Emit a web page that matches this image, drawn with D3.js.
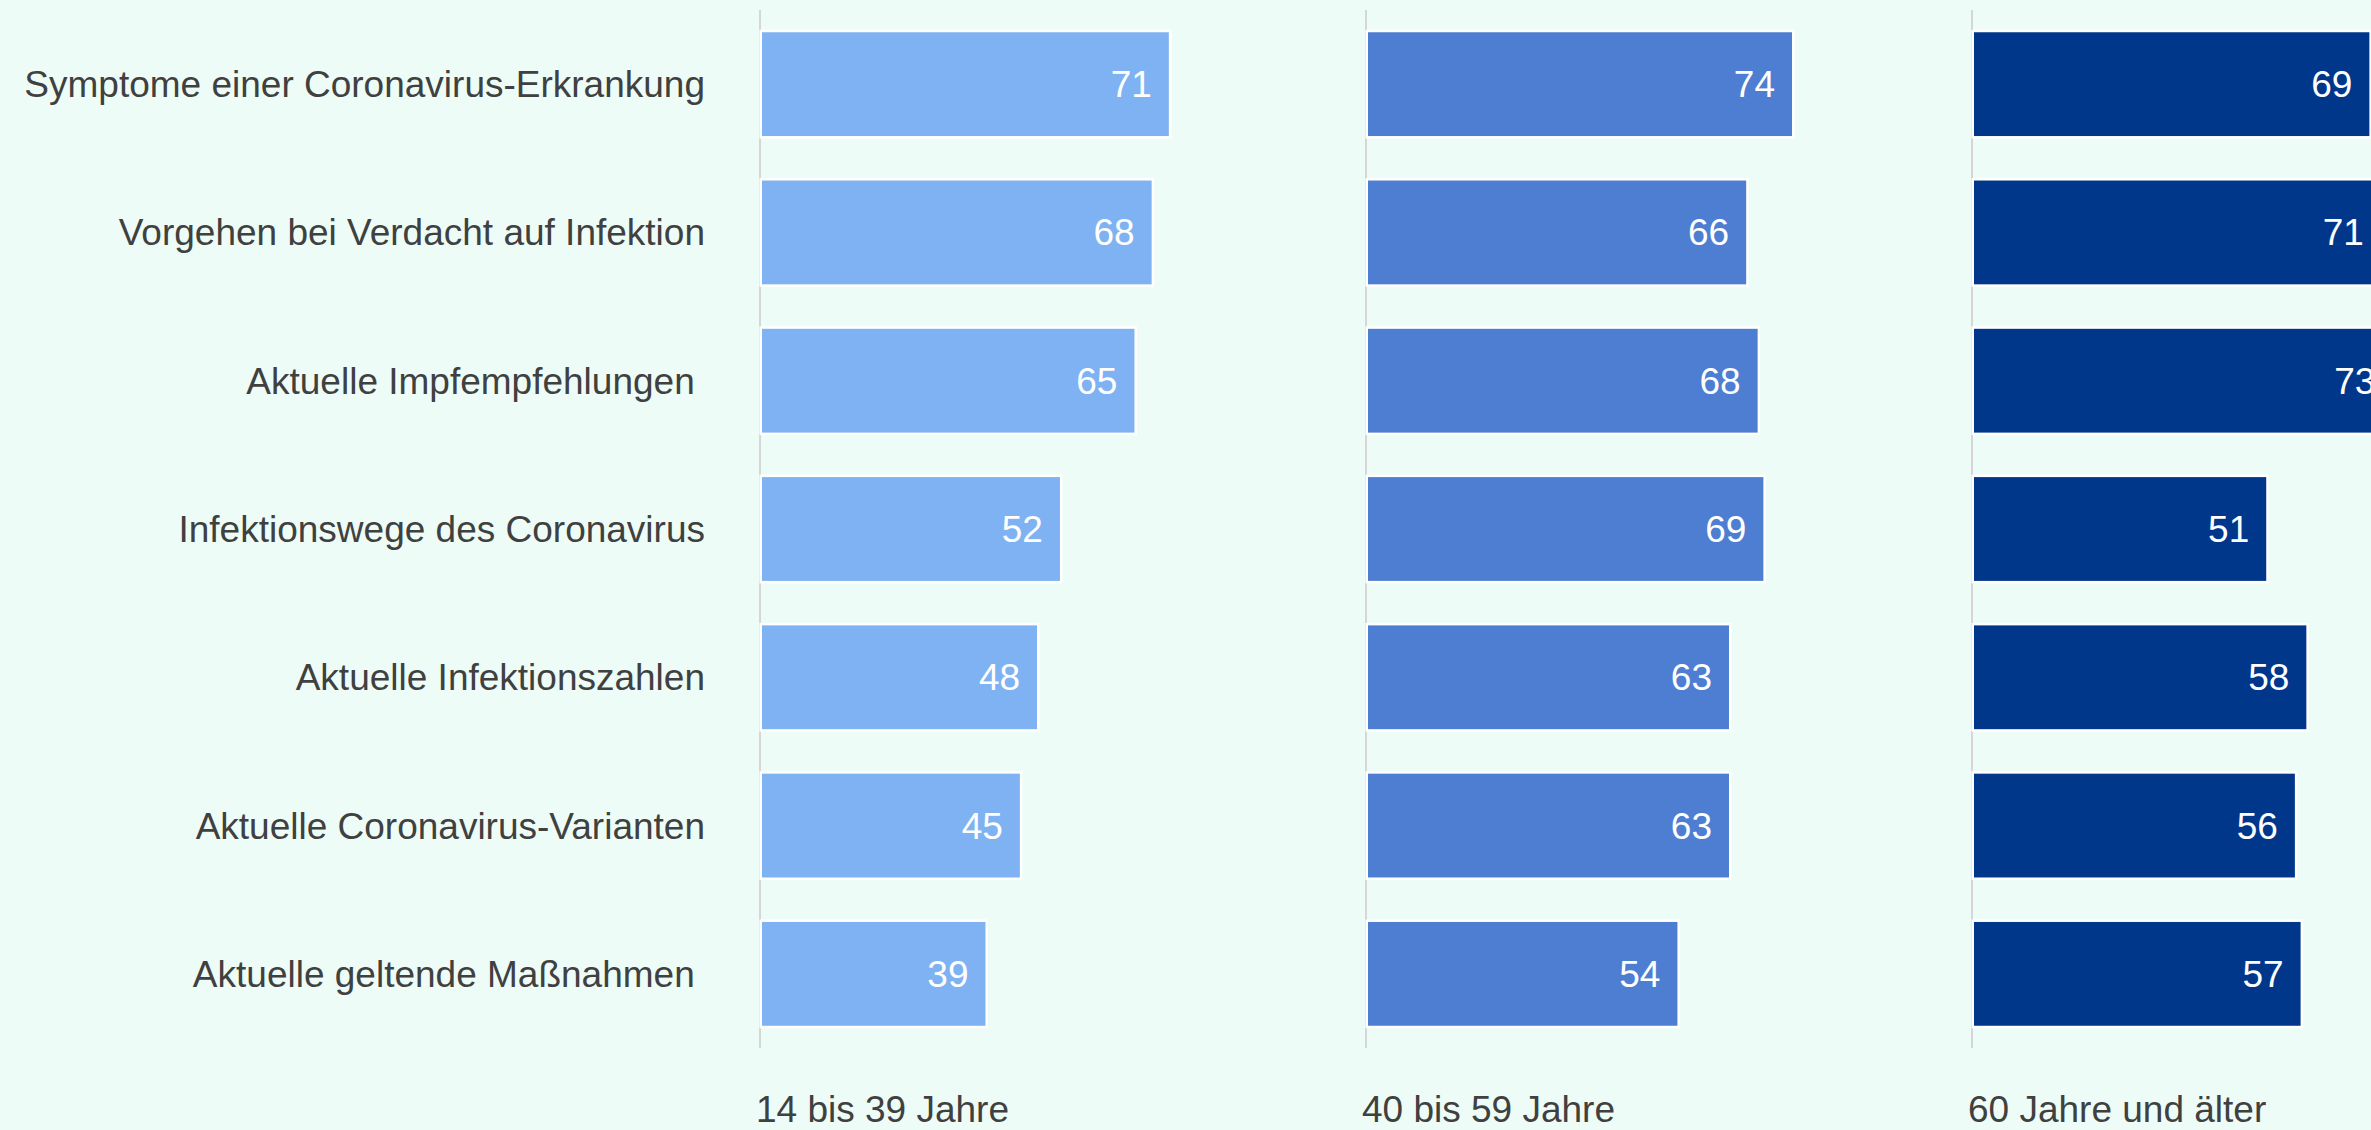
<!DOCTYPE html>
<html>
<head>
<meta charset="utf-8">
<script src="https://cdn.jsdelivr.net/npm/d3@7"></script>
<style>
  html, body { margin: 0; padding: 0; background: #edfcf6; overflow: hidden; }
  svg { display: block; }
  text { font-family: "Liberation Sans", Arial, sans-serif; }
</style>
</head>
<body>
<svg id="chart" width="2371" height="1130"></svg>
<script>
const categories = [
  "Symptome einer Coronavirus-Erkrankung",
  "Vorgehen bei Verdacht auf Infektion",
  "Aktuelle Impfempfehlungen ",
  "Infektionswege des Coronavirus",
  "Aktuelle Infektionszahlen",
  "Aktuelle Coronavirus-Varianten",
  "Aktuelle geltende Maßnahmen "
];
const groups = ["14 bis 39 Jahre", "40 bis 59 Jahre", "60 Jahre und älter"];
const values14to39 = [71, 68, 65, 52, 48, 45, 39];
const values40to59 = [74, 66, 68, 69, 63, 63, 54];
const values60plus = [69, 71, 73, 51, 58, 56, 57];
const colors = ["#7fb2f2", "#4e7ed1", "#00378a"];

const seriesValues = [values14to39, values40to59, values60plus];

const W = 2371, H = 1130;
const svg = d3.select("#chart");
svg.append("rect").attr("width", W).attr("height", H).attr("fill", "#edfcf6");

const y = d3.scaleBand().domain(categories).range([10, 1048]).paddingInner(0.3).paddingOuter(0.15);
const panel = d3.scaleBand().domain(groups).range([761, 761 + 606 * 3]).padding(0);
const x = d3.scaleLinear().domain([0, 100]).range([0, 573]);

// category labels
svg.append("g").selectAll("text").data(categories).join("text")
  .attr("x", 705)
  .attr("y", d => y(d) + y.bandwidth() / 2)
  .attr("dy", "0.35em")
  .attr("text-anchor", "end")
  .attr("font-size", 37)
  .attr("fill", "#404040")
  .style("white-space", "pre")
  .text(d => d);

groups.forEach((g, gi) => {
  const x0 = panel(g);
  const gg = svg.append("g").attr("transform", `translate(${x0},0)`);
  // baseline axis line
  gg.append("line")
    .attr("x1", -1).attr("x2", -1)
    .attr("y1", 10).attr("y2", 1048)
    .attr("stroke", "#d6d6d6").attr("stroke-width", 2);
  const data = categories.map((c, i) => ({ c, v: seriesValues[gi][i] }));
  gg.selectAll("rect.bar").data(data).join("rect")
    .attr("class", "bar")
    .attr("x", x(0) + 1)
    .attr("y", d => y(d.c))
    .attr("width", d => x(d.v))
    .attr("height", y.bandwidth())
    .attr("fill", colors[gi])
    .attr("stroke", "#ffffff")
    .attr("stroke-width", 5)
    .style("paint-order", "stroke");
  gg.selectAll("text.val").data(data).join("text")
    .attr("class", "val")
    .attr("x", d => x(d.v) - 16)
    .attr("y", d => y(d.c) + y.bandwidth() / 2)
    .attr("dy", "0.35em")
    .attr("text-anchor", "end")
    .attr("font-size", 37)
    .attr("fill", "#ffffff")
    .text(d => d.v);
  gg.append("text")
    .attr("x", -5)
    .attr("y", 1122)
    .attr("font-size", 37)
    .attr("fill", "#404040")
    .text(g);
});
</script>
</body>
</html>
